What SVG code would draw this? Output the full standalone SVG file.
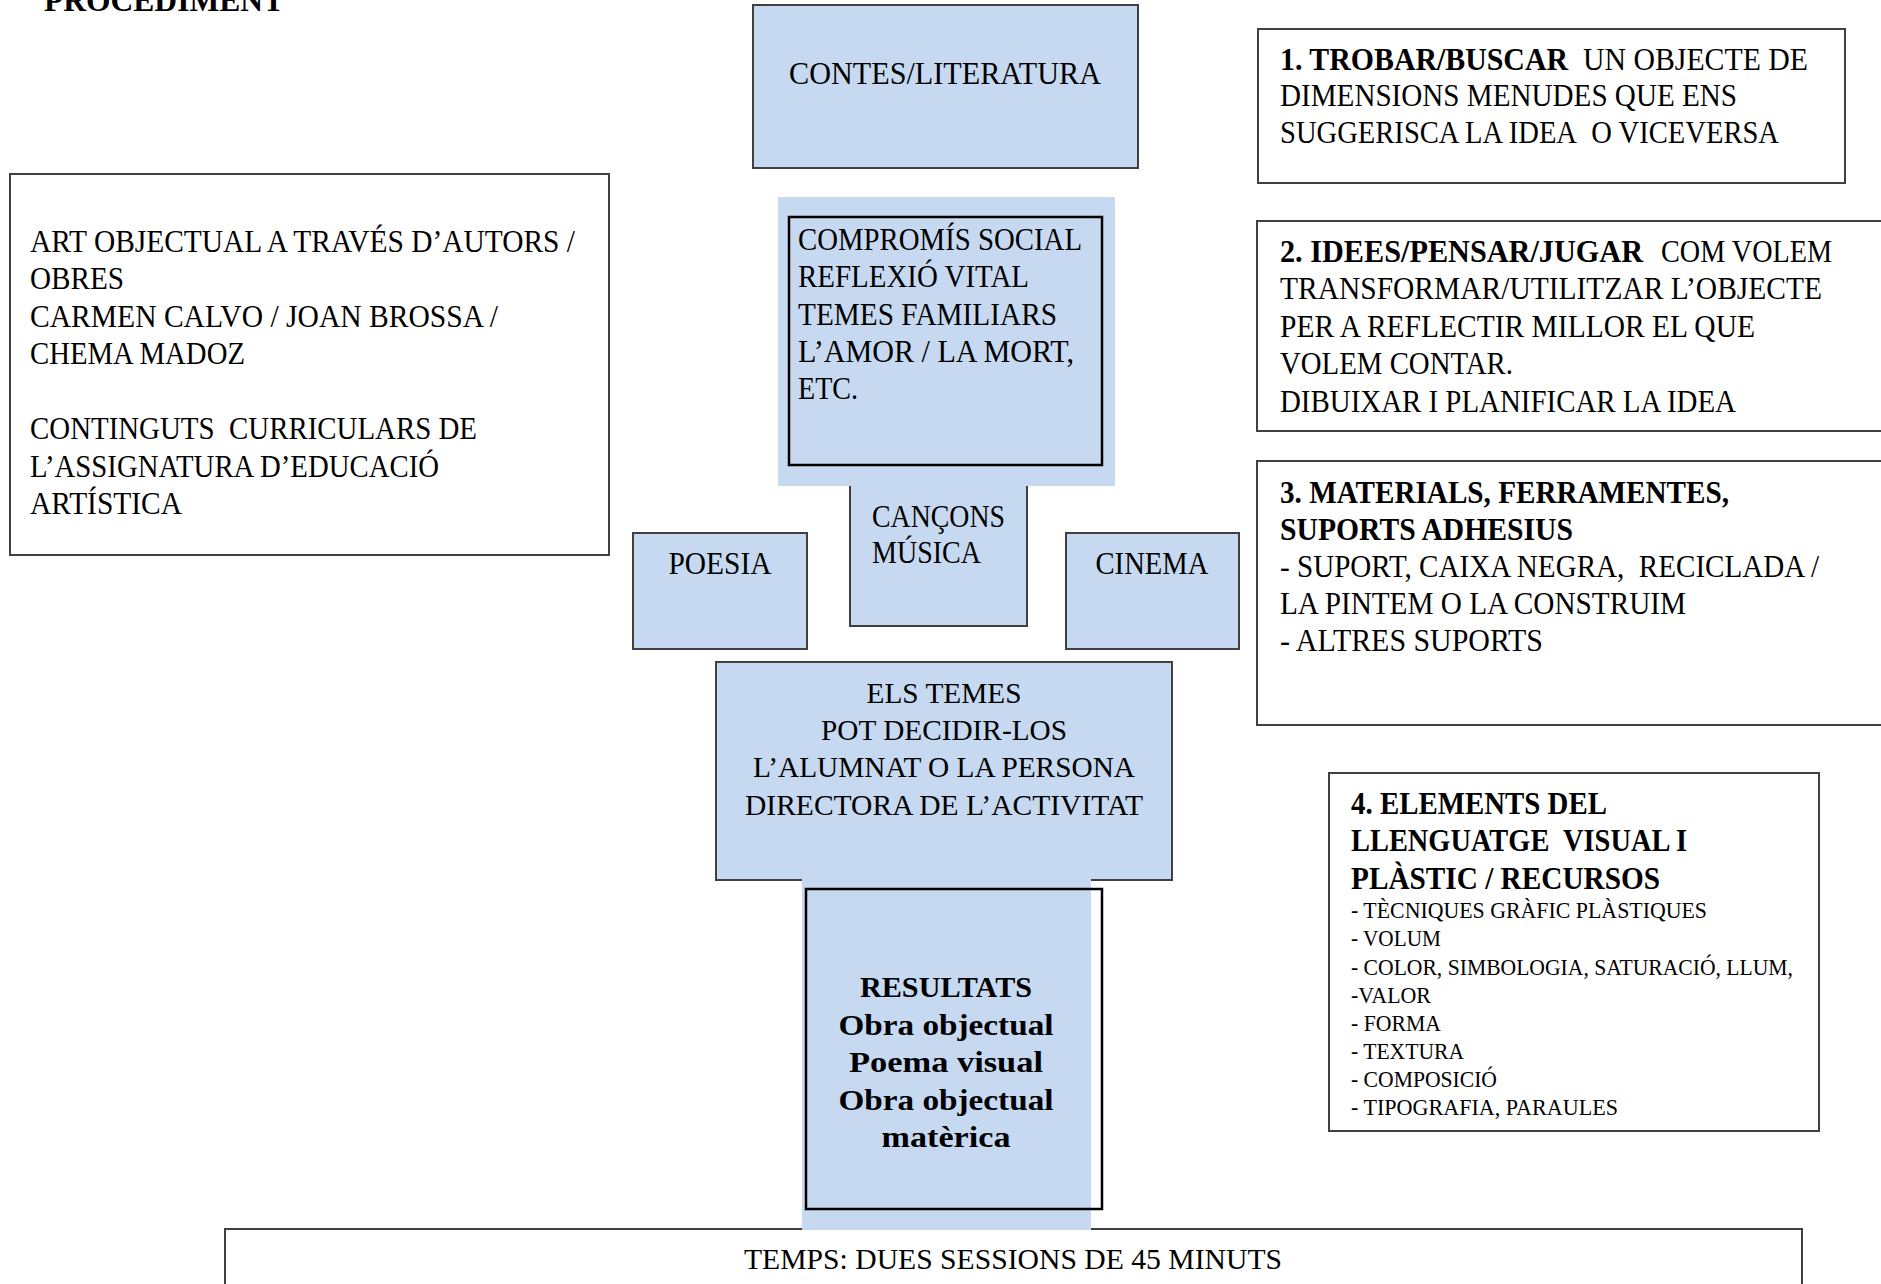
<svg xmlns="http://www.w3.org/2000/svg" width="1881" height="1284" viewBox="0 0 1881 1284">
<style>
.bg{fill:#ffffff}
.blue{fill:#c6d9f1;stroke:#404040;stroke-width:2}
.fillonly{fill:#c6d9f1;stroke:none}
.white{fill:#ffffff;stroke:#404040;stroke-width:2}
.inner{fill:none;stroke:#000000;stroke-width:2.5}
.t{font-family:"Liberation Serif","Times New Roman",serif;font-size:31px;fill:#000000}
.b{font-weight:bold}
.r{font-size:29px}
.s{font-size:23px}
.m{text-anchor:middle}
</style>
<rect class="bg" x="0" y="0" width="1881" height="1284"/>
<g id="connectors"/>
<g id="title">
<text class="t b" x="44" y="11" style="font-size:31px" textLength="240" lengthAdjust="spacingAndGlyphs">PROCEDIMENT</text>
</g>
<g id="node-art">
<rect class="white" x="10" y="174" width="599" height="381"/>
<text class="t" x="30" y="252" textLength="545" lengthAdjust="spacingAndGlyphs">ART OBJECTUAL A TRAVÉS D’AUTORS /</text>
<text class="t" x="30" y="289" textLength="94" lengthAdjust="spacingAndGlyphs">OBRES</text>
<text class="t" x="30" y="327" textLength="468" lengthAdjust="spacingAndGlyphs">CARMEN CALVO / JOAN BROSSA /</text>
<text class="t" x="30" y="364" textLength="215" lengthAdjust="spacingAndGlyphs">CHEMA MADOZ</text>
<text class="t" x="30" y="439" textLength="447" lengthAdjust="spacingAndGlyphs">CONTINGUTS&#160; CURRICULARS DE</text>
<text class="t" x="30" y="477" textLength="409" lengthAdjust="spacingAndGlyphs">L’ASSIGNATURA D’EDUCACIÓ</text>
<text class="t" x="30" y="514" textLength="152" lengthAdjust="spacingAndGlyphs">ARTÍSTICA</text>
</g>
<g id="node-contes">
<rect class="blue" x="753" y="5" width="385" height="163"/>
<text class="t m" x="945" y="84" textLength="312" lengthAdjust="spacingAndGlyphs">CONTES/LITERATURA</text>
</g>
<g id="node-cancons">
<rect class="blue" x="850" y="470" width="177" height="156"/>
<text class="t" x="872" y="527" textLength="133" lengthAdjust="spacingAndGlyphs">CANÇONS</text>
<text class="t" x="872" y="563" textLength="109" lengthAdjust="spacingAndGlyphs">MÚSICA</text>
</g>
<g id="node-compromis">
<rect class="fillonly" x="778" y="197" width="337" height="289"/>
<rect class="inner" x="789" y="217" width="313" height="248"/>
<text class="t" x="798" y="250" textLength="284" lengthAdjust="spacingAndGlyphs">COMPROMÍS SOCIAL</text>
<text class="t" x="798" y="287" textLength="231" lengthAdjust="spacingAndGlyphs">REFLEXIÓ VITAL</text>
<text class="t" x="798" y="325" textLength="259" lengthAdjust="spacingAndGlyphs">TEMES FAMILIARS</text>
<text class="t" x="798" y="362" textLength="276" lengthAdjust="spacingAndGlyphs">L’AMOR / LA MORT,</text>
<text class="t" x="798" y="399" textLength="60" lengthAdjust="spacingAndGlyphs">ETC.</text>
</g>
<g id="node-poesia">
<rect class="blue" x="633" y="533" width="174" height="116"/>
<text class="t m" x="720" y="574" textLength="103" lengthAdjust="spacingAndGlyphs">POESIA</text>
</g>
<g id="node-cinema">
<rect class="blue" x="1066" y="533" width="173" height="116"/>
<text class="t m" x="1152" y="574" textLength="113" lengthAdjust="spacingAndGlyphs">CINEMA</text>
</g>
<g id="node-temes">
<rect class="blue" x="716" y="662" width="456" height="218"/>
<text class="t r m" x="944" y="703" textLength="155" lengthAdjust="spacingAndGlyphs">ELS TEMES</text>
<text class="t r m" x="944" y="740" textLength="246" lengthAdjust="spacingAndGlyphs">POT DECIDIR-LOS</text>
<text class="t r m" x="944" y="777" textLength="382" lengthAdjust="spacingAndGlyphs">L’ALUMNAT O LA PERSONA</text>
<text class="t r m" x="944" y="815" textLength="398" lengthAdjust="spacingAndGlyphs">DIRECTORA DE L’ACTIVITAT</text>
</g>
<g id="node-temps">
<rect class="white" x="225" y="1229" width="1577" height="100"/>
<text class="t r m" x="1013" y="1269" textLength="538" lengthAdjust="spacingAndGlyphs">TEMPS: DUES SESSIONS DE 45 MINUTS</text>
</g>
<g id="node-resultats">
<rect class="fillonly" x="802" y="879" width="289" height="351"/>
<rect class="inner" x="806" y="889" width="296" height="320"/>
<text class="t r b m" x="946" y="997" textLength="172" lengthAdjust="spacingAndGlyphs">RESULTATS</text>
<text class="t r b m" x="946" y="1035" textLength="215" lengthAdjust="spacingAndGlyphs">Obra objectual</text>
<text class="t r b m" x="946" y="1072" textLength="194" lengthAdjust="spacingAndGlyphs">Poema visual</text>
<text class="t r b m" x="946" y="1110" textLength="215" lengthAdjust="spacingAndGlyphs">Obra objectual</text>
<text class="t r b m" x="946" y="1147" textLength="129" lengthAdjust="spacingAndGlyphs">matèrica</text>
</g>
<g id="node-step1">
<rect class="white" x="1258" y="29" width="587" height="154"/>
<text class="t b" x="1280" y="70" textLength="288" lengthAdjust="spacingAndGlyphs">1. TROBAR/BUSCAR</text>
<text class="t" x="1583" y="70" textLength="225" lengthAdjust="spacingAndGlyphs">UN OBJECTE DE</text>
<text class="t" x="1280" y="106" textLength="457" lengthAdjust="spacingAndGlyphs">DIMENSIONS MENUDES QUE ENS</text>
<text class="t" x="1280" y="143" textLength="499" lengthAdjust="spacingAndGlyphs">SUGGERISCA LA IDEA&#160; O VICEVERSA</text>
</g>
<g id="node-step2">
<rect class="white" x="1257" y="221" width="640" height="210"/>
<text class="t b" x="1280" y="262" textLength="363" lengthAdjust="spacingAndGlyphs">2. IDEES/PENSAR/JUGAR</text>
<text class="t" x="1661" y="262" textLength="171" lengthAdjust="spacingAndGlyphs">COM VOLEM</text>
<text class="t" x="1280" y="299" textLength="542" lengthAdjust="spacingAndGlyphs">TRANSFORMAR/UTILITZAR L’OBJECTE</text>
<text class="t" x="1280" y="337" textLength="475" lengthAdjust="spacingAndGlyphs">PER A REFLECTIR MILLOR EL QUE</text>
<text class="t" x="1280" y="374" textLength="233" lengthAdjust="spacingAndGlyphs">VOLEM CONTAR.</text>
<text class="t" x="1280" y="412" textLength="456" lengthAdjust="spacingAndGlyphs">DIBUIXAR I PLANIFICAR LA IDEA</text>
</g>
<g id="node-step3">
<rect class="white" x="1257" y="461" width="640" height="264"/>
<text class="t b" x="1280" y="503" textLength="449" lengthAdjust="spacingAndGlyphs">3. MATERIALS, FERRAMENTES,</text>
<text class="t b" x="1280" y="540" textLength="293" lengthAdjust="spacingAndGlyphs">SUPORTS ADHESIUS</text>
<text class="t" x="1280" y="577" textLength="539" lengthAdjust="spacingAndGlyphs">- SUPORT, CAIXA NEGRA,&#160; RECICLADA /</text>
<text class="t" x="1280" y="614" textLength="406" lengthAdjust="spacingAndGlyphs">LA PINTEM O LA CONSTRUIM</text>
<text class="t" x="1280" y="651" textLength="263" lengthAdjust="spacingAndGlyphs">- ALTRES SUPORTS</text>
</g>
<g id="node-step4">
<rect class="white" x="1329" y="773" width="490" height="358"/>
<text class="t b" x="1351" y="814" textLength="256" lengthAdjust="spacingAndGlyphs">4. ELEMENTS DEL</text>
<text class="t b" x="1351" y="851" textLength="336" lengthAdjust="spacingAndGlyphs">LLENGUATGE&#160; VISUAL I</text>
<text class="t b" x="1351" y="889" textLength="309" lengthAdjust="spacingAndGlyphs">PLÀSTIC / RECURSOS</text>
<text class="t s" x="1351" y="918" textLength="356" lengthAdjust="spacingAndGlyphs">- TÈCNIQUES GRÀFIC PLÀSTIQUES</text>
<text class="t s" x="1351" y="946" textLength="90" lengthAdjust="spacingAndGlyphs">- VOLUM</text>
<text class="t s" x="1351" y="975" textLength="442" lengthAdjust="spacingAndGlyphs">- COLOR, SIMBOLOGIA, SATURACIÓ, LLUM,</text>
<text class="t s" x="1351" y="1003" textLength="80" lengthAdjust="spacingAndGlyphs">-VALOR</text>
<text class="t s" x="1351" y="1031" textLength="90" lengthAdjust="spacingAndGlyphs">- FORMA</text>
<text class="t s" x="1351" y="1059" textLength="113" lengthAdjust="spacingAndGlyphs">- TEXTURA</text>
<text class="t s" x="1351" y="1087" textLength="146" lengthAdjust="spacingAndGlyphs">- COMPOSICIÓ</text>
<text class="t s" x="1351" y="1115" textLength="267" lengthAdjust="spacingAndGlyphs">- TIPOGRAFIA, PARAULES</text>
</g>
</svg>
